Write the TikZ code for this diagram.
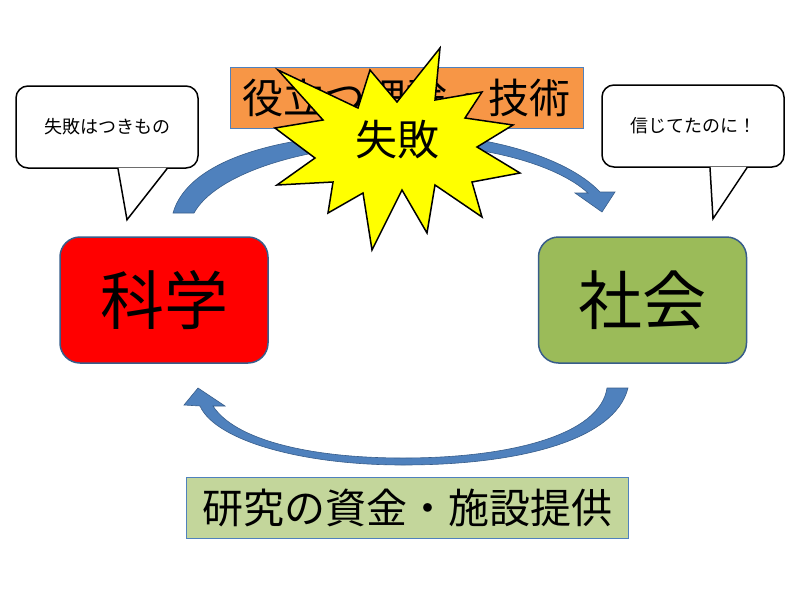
\documentclass[tikz,border=0pt]{standalone}
\usepackage{fontspec}
\newfontfamily\jpfont{Noto Sans CJK JP}
\definecolor{cycRed}{HTML}{FF0000}
\definecolor{cycGreen}{HTML}{9BBB59}
\definecolor{cycOrange}{HTML}{F79646}
\definecolor{cycPale}{HTML}{C3D69B}
\definecolor{cycBlue}{HTML}{4F81BD}
\definecolor{cycEdge}{HTML}{385D8A}
\definecolor{cycStar}{HTML}{FFFF00}
\tikzset{
  cyc box/.style={draw=cycEdge, line width=1.5pt, rounded corners=20pt,
    minimum width=208pt, minimum height=126pt, inner sep=0pt,
    font=\jpfont\fontsize{64}{70}\selectfont},
  cyc band/.style={draw=cycBlue, line width=0.8pt, inner sep=0pt,
    minimum height=61pt, font=\jpfont\fontsize{41}{46}\selectfont},
  cyc arrow/.style={fill=cycBlue, draw=cycEdge, line width=0.6pt},
  cyc bubble/.style={draw=black, fill=white, line width=1.5pt, rounded corners=12pt,
    minimum width=182pt, minimum height=82pt, inner sep=0pt,
    font=\jpfont\fontsize{18}{22}\selectfont},
}

\begin{document}
\begin{tikzpicture}[x=1pt, y=-1pt,
  tail/.style={draw=black, line width=1.5pt, line join=miter},
  burst/.style={draw=black, fill=cycStar, line width=1.5pt, line join=miter}
]
  \useasboundingbox (0,0) rectangle (800,600);

  % curved arrows
  \draw[cyc arrow] (173,213) .. controls (188,160) and (280,133) .. (400,133)
    .. controls (480,133) and (565,155) .. (600,192) -- (615,192) -- (602,212)
    -- (575,193) -- (588,193) .. controls (555,163) and (480,144) .. (400,144)
    .. controls (300,146) and (215,175) .. (194,213) -- cycle;
  \draw[cyc arrow] (628,388) .. controls (615,440) and (520,465) .. (403,465)
    .. controls (300,465) and (215,440) .. (200,406) -- (184,405) -- (198,388)
    -- (225,406) -- (213,406) .. controls (235,440) and (310,458) .. (403,458)
    .. controls (510,458) and (600,435) .. (607,388) -- cycle;

  \node[cyc band, fill=cycOrange, minimum width=353pt] (useful) at (406.5,97.5) {役立つ理論・技術};
  \node[cyc band, fill=cycPale, minimum width=442pt] (funding) at (407,507.5) {研究の資金・施設提供};

  \node[cyc box, fill=cycRed] (science) at (164,300) {科学};
  \node[cyc box, fill=cycGreen] (society) at (642.5,300) {社会};

  % speech bubbles
  \node[cyc bubble] (sciNote) at (107,127) {失敗はつきもの};
  \fill[white] ([xshift=11.5pt,yshift=1pt]sciNote.south) -- ([xshift=20pt,yshift=-51pt]sciNote.south)
    -- ([xshift=59.5pt,yshift=1pt]sciNote.south) -- cycle;
  \draw[tail] ([xshift=11pt]sciNote.south) -- ([xshift=20pt,yshift=-51pt]sciNote.south)
    -- ([xshift=60pt]sciNote.south);
  \node[cyc bubble] (socNote) at (693,126) {信じてたのに！};
  \fill[white] ([xshift=17.5pt,yshift=1pt]socNote.south) -- ([xshift=20pt,yshift=-51pt]socNote.south)
    -- ([xshift=53.5pt,yshift=1pt]socNote.south) -- cycle;
  \draw[tail] ([xshift=17pt]socNote.south) -- ([xshift=20pt,yshift=-51pt]socNote.south)
    -- ([xshift=54pt]socNote.south);

  % explosion
  \draw[burst] (440,48) -- (435,100) -- (482,92) -- (465,118) -- (513,125) -- (477,147)
    -- (520,173) -- (472,182) -- (482,217) -- (435,185) -- (427,233) -- (402,190)
    -- (372,250) -- (363,193) -- (328,213) -- (333,182) -- (277,185) -- (315,158)
    -- (275,128) -- (323,120) -- (278,70) -- (358,108) -- (370,70) -- (397,102) -- cycle;
  \node[font=\jpfont\fontsize{42}{46}\selectfont] (failure) at (397,140) {失敗};
\end{tikzpicture}
\end{document}
